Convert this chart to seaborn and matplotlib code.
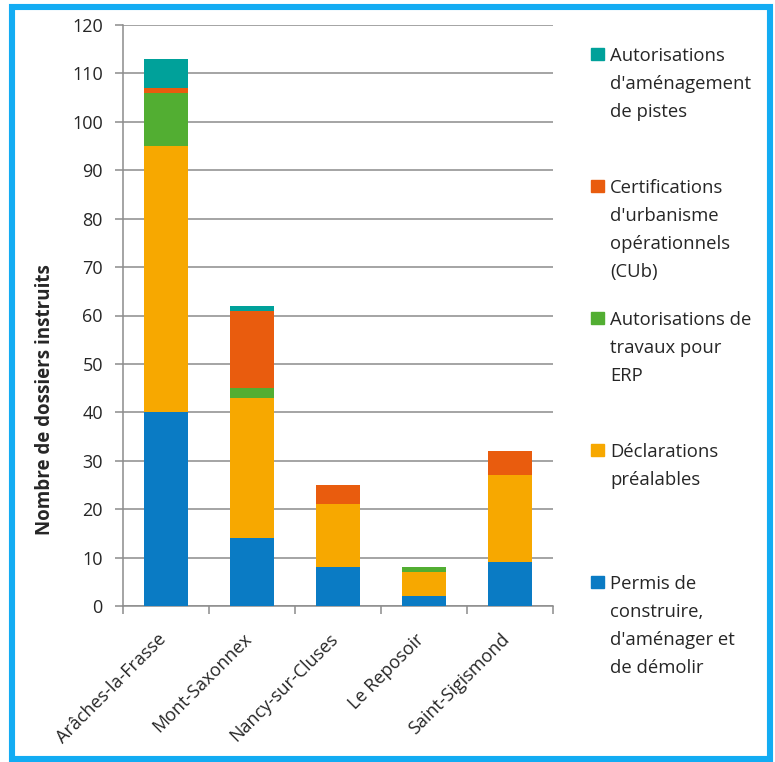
import numpy as np
import pandas as pd
import matplotlib
matplotlib.use('Agg')
import matplotlib.pyplot as plt
import matplotlib.transforms as mtransforms
from matplotlib.patches import Rectangle
import seaborn as sns

communes = ["Arâches-la-Frasse", "Mont-Saxonnex", "Nancy-sur-Cluses", "Le Reposoir", "Saint-Sigismond"]

# series, bottom to top
permis = [40, 14, 8, 2, 9]
declarations = [55, 29, 13, 5, 18]
erp = [11, 2, 0, 1, 0]
cub = [1, 16, 4, 0, 5]
pistes = [6, 1, 0, 0, 0]

series_names = [
    "Permis de\nconstruire,\nd'aménager et\nde démolir",
    "Déclarations\npréalables",
    "Autorisations de\ntravaux pour\nERP",
    "Certifications\nd'urbanisme\nopérationnels\n(CUb)",
    "Autorisations\nd'aménagement\nde pistes",
]
series_values = [permis, declarations, erp, cub, pistes]
colors = ["#0A7BC4", "#F7A800", "#52AE32", "#E95C0E", "#00A19A"]

sns.set_style("white")
plt.rcParams['font.family'] = ['Open Sans', 'DejaVu Sans']

fig = plt.figure(figsize=(7.75, 7.62), dpi=100)
W, H = 775, 762
ax = fig.add_axes([123 / W, 1 - 606 / H, 430 / W, 581 / H])

cum = np.cumsum(np.array(series_values), axis=0)
# draw tallest stack first, lower segments paint over it
for i in range(len(series_values) - 1, -1, -1):
    df = pd.DataFrame({"commune": communes, "val": cum[i]})
    sns.barplot(data=df, x="commune", y="val", color=colors[i], width=0.51,
                linewidth=0, saturation=1, ax=ax, zorder=3)

ax.set_ylim(0, 120)
ax.set_yticks(np.arange(0, 121, 10))
ax.set_xlim(-0.5, 4.5)
ax.yaxis.grid(True, color="#8C8C8C", linewidth=1.1, zorder=0)
ax.set_axisbelow(True)
for s in ["top", "right"]:
    ax.spines[s].set_visible(False)
for s in ["left", "bottom"]:
    ax.spines[s].set_color("#8C8C8C")
    ax.spines[s].set_linewidth(1.1)
ax.set_xlabel("")
ax.set_ylabel("")

ax.tick_params(axis="y", direction="out", length=5.5, width=1.1, color="#8C8C8C",
               labelsize=13, labelcolor="#262626", pad=9, left=True)
ax.set_xticks(np.arange(-0.5, 5, 1), minor=True)
ax.tick_params(axis="x", which="minor", direction="out", length=5.5, width=1.1,
               color="#8C8C8C", bottom=True)
ax.tick_params(axis="x", which="major", length=0, labelsize=13, labelcolor="#262626", pad=22)
offset = mtransforms.ScaledTranslation(-3 / 100, 0, fig.dpi_scale_trans)
for lab in ax.get_xticklabels():
    lab.set_rotation(45)
    lab.set_ha("right")
    lab.set_va("center")
    lab.set_rotation_mode("anchor")
    lab.set_transform(lab.get_transform() + offset)

fig.text(45 / W, 1 - 400 / H, "Nombre de dossiers instruits", rotation=90,
         fontsize=13.5, fontweight="bold", color="#262626", ha="center", va="center")

# legend, top entry first, evenly spaced slots
baselines = [61, 193, 325, 457, 589]
pitch = 28
for k, i in enumerate(range(len(series_names) - 1, -1, -1)):
    b = baselines[k]
    fig.patches.append(Rectangle((591 / W, 1 - (b - 1) / H), 13 / W, 12 / H,
                                 transform=fig.transFigure, color=colors[i]))
    for j, line in enumerate(series_names[i].split("\n")):
        fig.text(610 / W, 1 - (b + j * pitch) / H, line, fontsize=13.3,
                 color="#262626", ha="left", va="baseline")

# outer blue frame
fig.patches.append(Rectangle((12 / W, 1 - 758.5 / H), 758 / W, 751.5 / H,
                             transform=fig.transFigure, fill=False,
                             edgecolor="#13ACF3", linewidth=4.4))

fig.savefig("out.png", dpi=100)
